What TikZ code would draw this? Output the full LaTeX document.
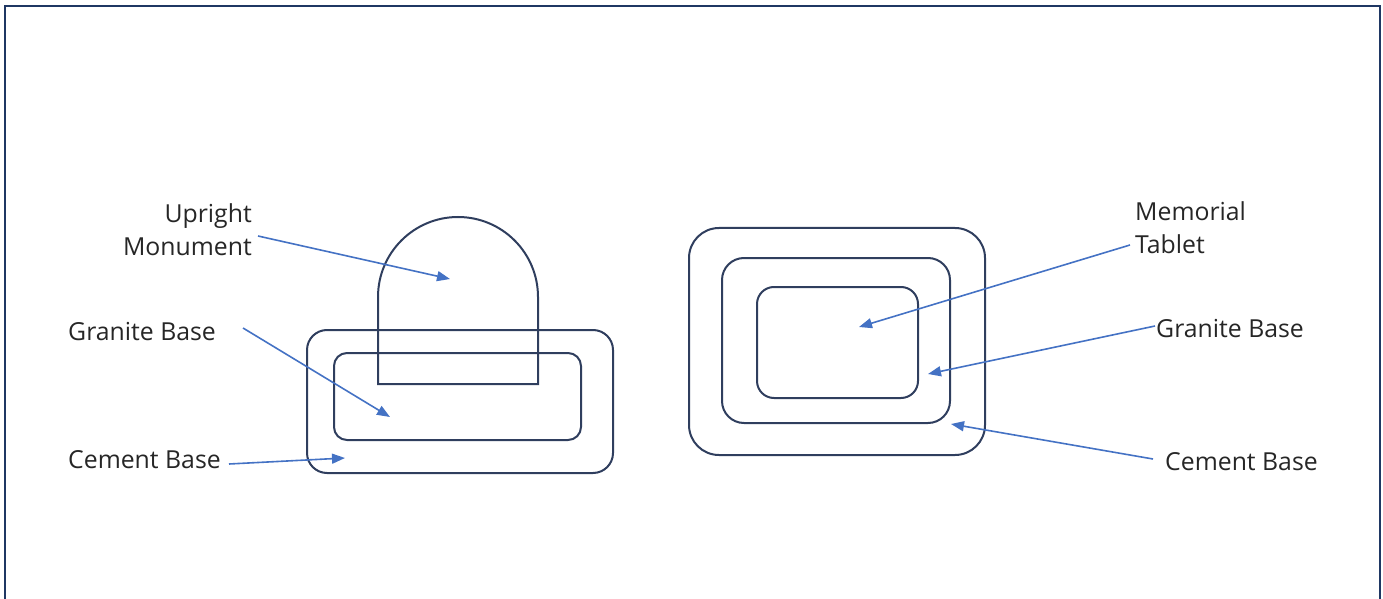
\documentclass[tikz,border=0pt]{standalone}
\usepackage{fontspec}
\setmainfont{Open Sans}
\usetikzlibrary{arrows.meta}
\definecolor{framec}{HTML}{1F3763}
\definecolor{shapec}{HTML}{2F3E5E}
\definecolor{arrowc}{HTML}{4472C4}
\tikzset{
  x=1pt, y=1pt,
  outline/.style={draw=shapec, line width=2pt},
  pointer/.style={draw=arrowc, line width=1.6pt, -{Triangle[length=13pt,width=10pt]}},
  lbl/.style={inner sep=0pt, font=\fontsize{24.8}{33}\selectfont, text=black!85},
}
\begin{document}
\begin{tikzpicture}
\useasboundingbox (0,0) rectangle (1383,598);
% frame
\draw[framec, line width=2.6pt] (5,-20) -- (5,592) -- (1380,592) -- (1380,-20);

% left group
\draw[outline, rounded corners=20pt] (307,125) rectangle (613,268);
\draw[outline, rounded corners=13pt] (334,158) rectangle (581,245);
\draw[outline] (378,214) -- (378,301) arc[start angle=180, end angle=0, radius=80] -- (538,214) -- cycle;

% right group
\draw[outline, rounded corners=30pt] (689,143) rectangle (985,370);
\draw[outline, rounded corners=22pt] (722,175) rectangle (950,340);
\draw[outline, rounded corners=17pt] (757,200) rectangle (918,311);

% labels
\node[lbl, align=right, anchor=east] (um) at (252,368) {Upright\\Monument};
\node[lbl, anchor=base west] (gbl) at (68,258) {Granite Base};
\node[lbl, anchor=base west] (cbl) at (68,130) {Cement Base};
\node[lbl, align=left, anchor=west] (mt) at (1135,370) {Memorial\\Tablet};
\node[lbl, anchor=base west] (gbr) at (1156,261) {Granite Base};
\node[lbl, anchor=base west] (cbr) at (1165,128) {Cement Base};

% arrow ends
\coordinate (umS) at (258,362);  \coordinate (umT) at (450,319);
\coordinate (gblS) at (243,270); \coordinate (gblT) at (390,181);
\coordinate (cblS) at (229,134); \coordinate (cblT) at (345,140);
\coordinate (mtS) at (1130,353); \coordinate (mtT) at (859,271);
\coordinate (gbrS) at (1155,272); \coordinate (gbrT) at (928,224);
\coordinate (cbrS) at (1153,139); \coordinate (cbrT) at (951,174);

\draw[pointer] (umS) -- (umT);
\draw[pointer] (gblS) -- (gblT);
\draw[pointer] (cblS) -- (cblT);
\draw[pointer] (mtS) -- (mtT);
\draw[pointer] (gbrS) -- (gbrT);
\draw[pointer] (cbrS) -- (cbrT);
\end{tikzpicture}
\end{document}
